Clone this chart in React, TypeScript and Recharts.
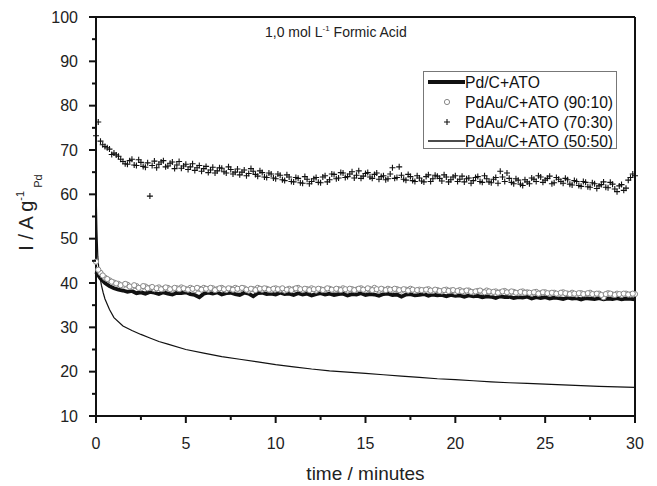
import React from 'react';
import { ComposedChart, Line, XAxis, YAxis, ReferenceLine, Legend } from 'recharts';

const FONT = '"Liberation Sans", Arial, Helvetica, sans-serif';

// sampling times (minutes) for the noisy curves
const TIME = [
  0, 0.25, 0.5, 0.75, 1, 1.25, 1.5, 1.75,
  2, 2.25, 2.5, 2.75, 3, 3.25, 3.5, 3.75,
  4, 4.25, 4.5, 4.75, 5, 5.25, 5.5, 5.75,
  6, 6.25, 6.5, 6.75, 7, 7.25, 7.5, 7.75,
  8, 8.25, 8.5, 8.75, 9, 9.25, 9.5, 9.75,
  10, 10.25, 10.5, 10.75, 11, 11.25, 11.5, 11.75,
  12, 12.25, 12.5, 12.75, 13, 13.25, 13.5, 13.75,
  14, 14.25, 14.5, 14.75, 15, 15.25, 15.5, 15.75,
  16, 16.25, 16.5, 16.75, 17, 17.25, 17.5, 17.75,
  18, 18.25, 18.5, 18.75, 19, 19.25, 19.5, 19.75,
  20, 20.25, 20.5, 20.75, 21, 21.25, 21.5, 21.75,
  22, 22.25, 22.5, 22.75, 23, 23.25, 23.5, 23.75,
  24, 24.25, 24.5, 24.75, 25, 25.25, 25.5, 25.75,
  26, 26.25, 26.5, 26.75, 27, 27.25, 27.5, 27.75,
  28, 28.25, 28.5, 28.75, 29, 29.25, 29.5, 29.75,
  30,
];

// in-between sampling times for the marker series
const TIME_MID = [
  0.125, 0.375, 0.625, 0.875, 1.125, 1.375, 1.625, 1.875,
  2.125, 2.375, 2.625, 2.875, 3.125, 3.375, 3.625, 3.875,
  4.125, 4.375, 4.625, 4.875, 5.125, 5.375, 5.625, 5.875,
  6.125, 6.375, 6.625, 6.875, 7.125, 7.375, 7.625, 7.875,
  8.125, 8.375, 8.625, 8.875, 9.125, 9.375, 9.625, 9.875,
  10.125, 10.375, 10.625, 10.875, 11.125, 11.375, 11.625, 11.875,
  12.125, 12.375, 12.625, 12.875, 13.125, 13.375, 13.625, 13.875,
  14.125, 14.375, 14.625, 14.875, 15.125, 15.375, 15.625, 15.875,
  16.125, 16.375, 16.625, 16.875, 17.125, 17.375, 17.625, 17.875,
  18.125, 18.375, 18.625, 18.875, 19.125, 19.375, 19.625, 19.875,
  20.125, 20.375, 20.625, 20.875, 21.125, 21.375, 21.625, 21.875,
  22.125, 22.375, 22.625, 22.875, 23.125, 23.375, 23.625, 23.875,
  24.125, 24.375, 24.625, 24.875, 25.125, 25.375, 25.625, 25.875,
  26.125, 26.375, 26.625, 26.875, 27.125, 27.375, 27.625, 27.875,
  28.125, 28.375, 28.625, 28.875, 29.125, 29.375, 29.625, 29.875,
];

// Pd/C+ATO
const PD_ATO = [
  42.5, 41.0, 40.0, 39.3, 38.8, 38.5, 38.3, 38.0,
  38.2, 37.7, 37.9, 37.6, 38.0, 37.8, 37.5, 37.9,
  37.6, 37.4, 37.8, 37.7, 37.9, 37.5, 37.3, 36.8,
  37.6, 37.8, 37.6, 37.9, 37.4, 37.7, 37.8, 37.5,
  37.3, 37.8, 37.6, 37.0, 37.7, 37.8, 37.5, 37.6,
  37.4, 37.8, 37.5, 37.6, 37.3, 37.7, 37.4, 37.6,
  37.2, 37.5, 37.7, 37.4, 37.6, 37.3, 37.5, 37.6,
  37.2, 37.5, 37.4, 37.7, 37.3, 37.5, 37.4, 37.1,
  37.5, 37.6, 37.3, 37.4, 36.9, 37.4, 37.5, 37.2,
  37.3, 37.5, 37.1, 37.4, 37.2, 37.3, 37.0, 37.3,
  37.1, 37.2, 36.9, 37.2, 37.0, 37.1, 36.8, 37.0,
  36.9, 36.6, 37.0, 36.8, 36.9, 36.6, 36.8, 36.7,
  36.9, 36.5, 36.8, 36.6, 36.8, 36.5, 36.7, 36.6,
  36.4, 36.7, 36.5, 36.6, 36.3, 36.6, 36.5, 36.4,
  36.6, 36.3, 36.5, 36.4, 36.6, 36.3, 36.5, 36.4,
  36.3,
];

// PdAu/C+ATO (90:10)
const PDAU_90_10 = [
  44.8, 42.3, 41.2, 40.6, 40.1, 39.8, 39.4, 39.6,
  39.1, 39.3, 38.8, 39.2, 38.9, 38.6, 39.0, 38.7,
  38.9, 38.5, 38.8, 39.0, 38.6, 38.9, 38.4, 38.7,
  38.9, 38.5, 38.8, 38.6, 38.9, 38.4, 38.7, 38.9,
  38.5, 38.8, 38.3, 38.6, 38.9, 38.5, 38.7, 38.4,
  38.8, 38.5, 38.3, 38.7, 38.6, 38.9, 38.4, 38.6,
  38.8, 38.3, 38.6, 38.5, 38.7, 38.4, 38.6, 38.8,
  38.3, 38.6, 38.5, 38.8, 38.4, 38.6, 38.9, 38.3,
  38.5, 38.7, 38.4, 38.6, 38.3, 38.5, 38.7, 38.2,
  38.5, 38.3, 38.6, 38.2, 38.4, 38.1, 38.5, 38.3,
  38.0, 38.4, 38.1, 38.3, 37.9, 38.2, 38.0, 38.3,
  37.8, 38.1, 37.9, 38.2, 37.8, 38.0, 37.7, 38.1,
  37.9, 37.6, 38.0, 37.7, 37.9, 37.6, 37.8, 37.5,
  37.9, 37.6, 37.8, 37.4, 37.7, 37.5, 37.8, 37.4,
  37.6, 36.8, 37.7, 37.4, 37.6, 37.3, 37.6, 37.4,
  37.5,
];
const PDAU_90_10_MID = [
  43.0, 41.7, 40.9, 40.3, 39.9, 39.5, 39.8, 39.2,
  39.5, 38.9, 39.3, 38.8, 39.1, 38.8, 38.6, 39.0,
  38.6, 38.9, 38.6, 38.8, 38.5, 38.7, 38.9, 38.5,
  38.7, 38.9, 38.4, 38.8, 38.6, 38.8, 38.5, 38.7,
  38.9, 38.5, 38.7, 38.4, 38.7, 38.8, 38.5, 38.7,
  38.6, 38.8, 38.5, 38.4, 38.8, 38.6, 38.7, 38.4,
  38.6, 38.7, 38.4, 38.8, 38.5, 38.7, 38.4, 38.6,
  38.7, 38.4, 38.7, 38.5, 38.8, 38.4, 38.6, 38.7,
  38.4, 38.5, 38.7, 38.4, 38.6, 38.3, 38.5, 38.4,
  38.4, 38.5, 38.3, 38.5, 38.2, 38.4, 38.2, 38.4,
  38.2, 38.1, 38.3, 38.0, 38.1, 38.3, 37.9, 38.1,
  38.0, 37.8, 38.1, 37.9, 38.1, 37.8, 38.0, 37.8,
  37.8, 37.9, 37.6, 37.9, 37.7, 37.8, 37.6, 37.8,
  37.7, 37.5, 37.6, 37.7, 37.5, 37.7, 37.5, 37.6,
  37.3, 37.5, 37.6, 37.3, 37.5, 37.6, 37.4, 37.6,
];

// PdAu/C+ATO (70:30)
const PDAU_70_30 = [
  73.2, 72.0, 70.8, 70.2, 69.3, 68.6, 67.4, 66.8,
  67.9, 66.5, 67.2, 66.1, 59.6, 67.5, 66.8, 67.6,
  66.4, 67.3, 66.6, 65.9, 66.8, 66.2, 65.4, 66.5,
  65.8, 64.9, 66.1, 65.3, 65.9, 64.8, 65.6, 65.0,
  64.4, 65.5, 64.7, 65.2, 64.1, 64.9, 63.8, 64.6,
  63.5, 64.3, 63.1, 63.9, 62.8, 63.6, 62.5, 63.4,
  62.9, 63.8, 62.6, 64.2, 63.3, 64.5, 63.7, 64.8,
  64.0, 65.1, 64.3, 63.6, 64.7, 63.9, 64.5, 63.4,
  64.2, 63.5, 66.0, 63.8, 64.3, 63.2, 64.0, 62.9,
  63.7, 62.8, 64.4, 63.5, 64.1, 63.0, 63.9, 63.3,
  64.2, 63.4, 62.8, 63.7, 63.1, 64.0, 62.7, 63.5,
  62.6, 63.8, 65.2, 62.9, 63.6, 62.4, 63.2, 62.0,
  62.8, 63.7, 62.9, 63.9, 63.2, 64.1, 62.6, 63.4,
  62.5, 63.3, 62.1, 62.9, 61.8, 62.7, 61.6, 62.4,
  61.9, 62.8, 61.5, 62.3, 60.6, 62.2, 61.4, 63.8,
  64.2,
];
const PDAU_70_30_MID = [
  76.3, 71.2, 70.5, 69.0, 68.9, 67.9, 66.9, 67.6,
  66.6, 67.8, 66.3, 67.1, 66.5, 66.0, 67.3, 66.2,
  67.0, 65.8, 67.4, 66.4, 65.6, 66.9, 66.0, 65.2,
  66.3, 65.5, 64.8, 66.0, 65.1, 66.2, 64.6, 65.7,
  65.0, 64.2, 65.8, 64.5, 65.3, 63.9, 64.8, 63.7,
  64.6, 63.3, 64.4, 62.9, 63.8, 62.6, 64.0, 62.4,
  63.5, 62.7, 63.9, 62.8, 64.6, 63.5, 64.9, 63.8,
  64.6, 63.7, 65.3, 64.1, 64.9, 63.6, 64.8, 64.0,
  63.3, 64.6, 63.6, 66.2, 63.4, 64.5, 63.1, 64.2,
  63.0, 64.0, 62.9, 64.3, 63.6, 64.4, 62.8, 63.9,
  62.9, 64.1, 63.5, 62.5, 63.8, 62.9, 64.2, 62.8,
  63.4, 62.5, 63.9, 64.8, 62.7, 63.5, 62.3, 63.3,
  62.4, 63.4, 64.2, 62.7, 63.6, 62.4, 63.8, 62.9,
  63.6, 62.3, 63.1, 62.0, 62.9, 61.7, 62.6, 61.3,
  62.2, 61.6, 62.7, 61.2, 61.9, 60.9, 63.2, 64.6,
];

// PdAu/C+ATO (50:50), smooth decay
const TIME_50_50 = [
  0, 0.05, 0.1, 0.15, 0.2, 0.3, 0.4, 0.5, 0.75, 1, 1.5, 2, 2.5, 3, 3.5, 4,
  5, 6, 7, 8, 9, 10, 11, 12, 13, 14, 15, 16, 17, 18, 19, 20,
  21, 22, 23, 24, 25, 26, 27, 28, 29, 30,
];
const PDAU_50_50 = [
  62, 52, 46, 43.5, 41.8, 39.5, 37.8, 36.4, 34, 32.2, 30.3, 29.3, 28.4, 27.6, 26.8, 26.2,
  25.0, 24.2, 23.4, 22.8, 22.2, 21.6, 21.1, 20.6, 20.2, 19.9, 19.6, 19.3, 19.0, 18.7, 18.4, 18.2,
  17.95, 17.7, 17.5, 17.35, 17.2, 17.0, 16.85, 16.7, 16.55, 16.45,
];

const X_TICKS = [0, 2.5, 5, 7.5, 10, 12.5, 15, 17.5, 20, 22.5, 25, 27.5, 30];
const Y_TICKS = [10, 15, 20, 25, 30, 35, 40, 45, 50, 55, 60, 65, 70, 75, 80, 85, 90, 95, 100];

const rows = TIME.map((t, i) => ({ t, pd: PD_ATO[i], au90: PDAU_90_10[i], au70: PDAU_70_30[i] }));
const rowsMid = TIME_MID.map((t, i) => ({ t, au90: PDAU_90_10_MID[i], au70: PDAU_70_30_MID[i] }));
const rows5050 = TIME_50_50.map((t, i) => ({ t, au50: PDAU_50_50[i] }));

const INK = '#111';

const YTick = (props: any) => {
  const { x, y, payload } = props;
  const major = payload.value % 10 === 0;
  return (
    <g>
      <line x1={x} x2={x - (major ? 7 : 4)} y1={y} y2={y} stroke={INK} strokeWidth={2} />
      {major && (
        <text x={x - 18} y={y + 5.7} textAnchor="end" fontSize={16} fontFamily={FONT} fill="#222">
          {payload.value}
        </text>
      )}
    </g>
  );
};

const XTick = (props: any) => {
  const { x, y, payload } = props;
  const major = payload.value % 5 === 0;
  return (
    <g>
      <line x1={x} x2={x} y1={y} y2={y + (major ? 7 : 4)} stroke={INK} strokeWidth={2} />
      {major && (
        <text x={x} y={y + 33} textAnchor="middle" fontSize={16} fontFamily={FONT} fill="#222">
          {payload.value}
        </text>
      )}
    </g>
  );
};

const YLabel = (props: any) => {
  const vb = props.viewBox;
  const cx = vb.x + 33;
  const cy = vb.y + vb.height / 2 - 4;
  return (
    <text
      x={cx}
      y={cy}
      transform={`rotate(-90 ${cx} ${cy})`}
      textAnchor="middle"
      fontFamily={FONT}
      fontSize={20}
      fill="#222"
    >
      <tspan>I / A g</tspan>
      <tspan fontSize={11} dy={-9}>-1</tspan>
      <tspan fontSize={11} dy={18}>  Pd</tspan>
    </text>
  );
};

const XLabel = (props: any) => {
  const vb = props.viewBox;
  return (
    <text x={vb.x + vb.width / 2} y={vb.y + 64} textAnchor="middle" fontFamily={FONT} fontSize={19} fill="#222">
      time / minutes
    </text>
  );
};

const circleDot = (p: any) => {
  const { cx, cy, index } = p;
  if (cx == null || cy == null) return <g key={index} />;
  return <circle key={index} cx={cx} cy={cy} r={2.6} fill="#fff" stroke="#888" strokeWidth={1} />;
};

const plusDot = (p: any) => {
  const { cx, cy, index } = p;
  if (cx == null || cy == null) return <g key={index} />;
  return (
    <path
      key={index}
      d={`M${cx - 3},${cy}H${cx + 3}M${cx},${cy - 3}V${cy + 3}`}
      stroke={INK}
      strokeWidth={1.1}
      fill="none"
    />
  );
};

const LegendBox = () => {
  const rowsY = [11, 31, 51, 70];
  const labels = ['Pd/C+ATO', 'PdAu/C+ATO (90:10)', 'PdAu/C+ATO (70:30)', 'PdAu/C+ATO (50:50)'];
  return (
    <svg width={194} height={78} style={{ display: 'block' }}>
      <rect x={0.5} y={0.5} width={193} height={77} fill="#fff" stroke="#777" strokeWidth={1} />
      <line x1={5} x2={42} y1={rowsY[0]} y2={rowsY[0]} stroke={INK} strokeWidth={4} />
      <circle cx={24} cy={rowsY[1]} r={2.6} fill="#fff" stroke="#888" strokeWidth={1} />
      <path d={`M21,${rowsY[2]}H27M24,${rowsY[2] - 3}V${rowsY[2] + 3}`} stroke={INK} strokeWidth={1.1} />
      <line x1={5} x2={42} y1={rowsY[3]} y2={rowsY[3]} stroke={INK} strokeWidth={1.5} />
      {labels.map((l, i) => (
        <text key={l} x={42} y={rowsY[i] + 5.6} fontFamily={FONT} fontSize={15.7} fill="#111">
          {l}
        </text>
      ))}
    </svg>
  );
};

export default function App() {
  return (
    <div style={{ position: 'absolute', left: 0, top: 0, width: 657, height: 486, background: '#fff' }}>
      <ComposedChart
        width={657}
        height={486}
        data={rows}
        margin={{ top: 17, right: 22, left: 0, bottom: 10 }}
      >
        <XAxis
          dataKey="t"
          type="number"
          domain={[0, 30]}
          ticks={X_TICKS}
          interval={0}
          tickSize={0}
          tickMargin={0}
          tickLine={false}
          tick={(p: any) => <XTick {...p} />}
          axisLine={{ stroke: INK, strokeWidth: 2 }}
          height={60}
          label={(p: any) => <XLabel {...p} />}
        />
        <YAxis
          type="number"
          domain={[10, 100]}
          ticks={Y_TICKS}
          interval={0}
          tickSize={0}
          tickMargin={0}
          tickLine={false}
          tick={(p: any) => <YTick {...p} />}
          axisLine={{ stroke: INK, strokeWidth: 2 }}
          width={96}
          label={(p: any) => <YLabel {...p} />}
        />
        <ReferenceLine y={100} stroke={INK} strokeWidth={2} />
        <ReferenceLine x={30} stroke={INK} strokeWidth={2} />
        <Line
          dataKey="pd"
          stroke={INK}
          strokeWidth={3.8}
          dot={false}
          activeDot={false}
          isAnimationActive={false}
        />
        <Line
          dataKey="au90"
          stroke="none"
          dot={circleDot}
          activeDot={false}
          isAnimationActive={false}
        />
        <Line
          data={rowsMid}
          dataKey="au90"
          stroke="none"
          dot={circleDot}
          activeDot={false}
          isAnimationActive={false}
        />
        <Line
          dataKey="au70"
          stroke="none"
          dot={plusDot}
          activeDot={false}
          isAnimationActive={false}
        />
        <Line
          data={rowsMid}
          dataKey="au70"
          stroke="none"
          dot={plusDot}
          activeDot={false}
          isAnimationActive={false}
        />
        <Line
          data={rows5050}
          dataKey="au50"
          stroke={INK}
          strokeWidth={1.2}
          dot={false}
          activeDot={false}
          isAnimationActive={false}
        />
        <Legend
          layout="vertical"
          align="center"
          verticalAlign="middle"
          content={() => <LegendBox />}
          wrapperStyle={{ position: 'absolute', left: 423, top: 71, width: 194, height: 78 }}
        />
      </ComposedChart>
      <div
        style={{
          position: 'absolute',
          left: 265,
          top: 25,
          fontFamily: FONT,
          fontSize: 14,
          lineHeight: '14px',
          color: '#222',
          whiteSpace: 'nowrap',
        }}
      >
        1,0 mol L<sup style={{ fontSize: 8, verticalAlign: 'top', lineHeight: '8px' }}>-1</sup> Formic Acid
      </div>
    </div>
  );
}
